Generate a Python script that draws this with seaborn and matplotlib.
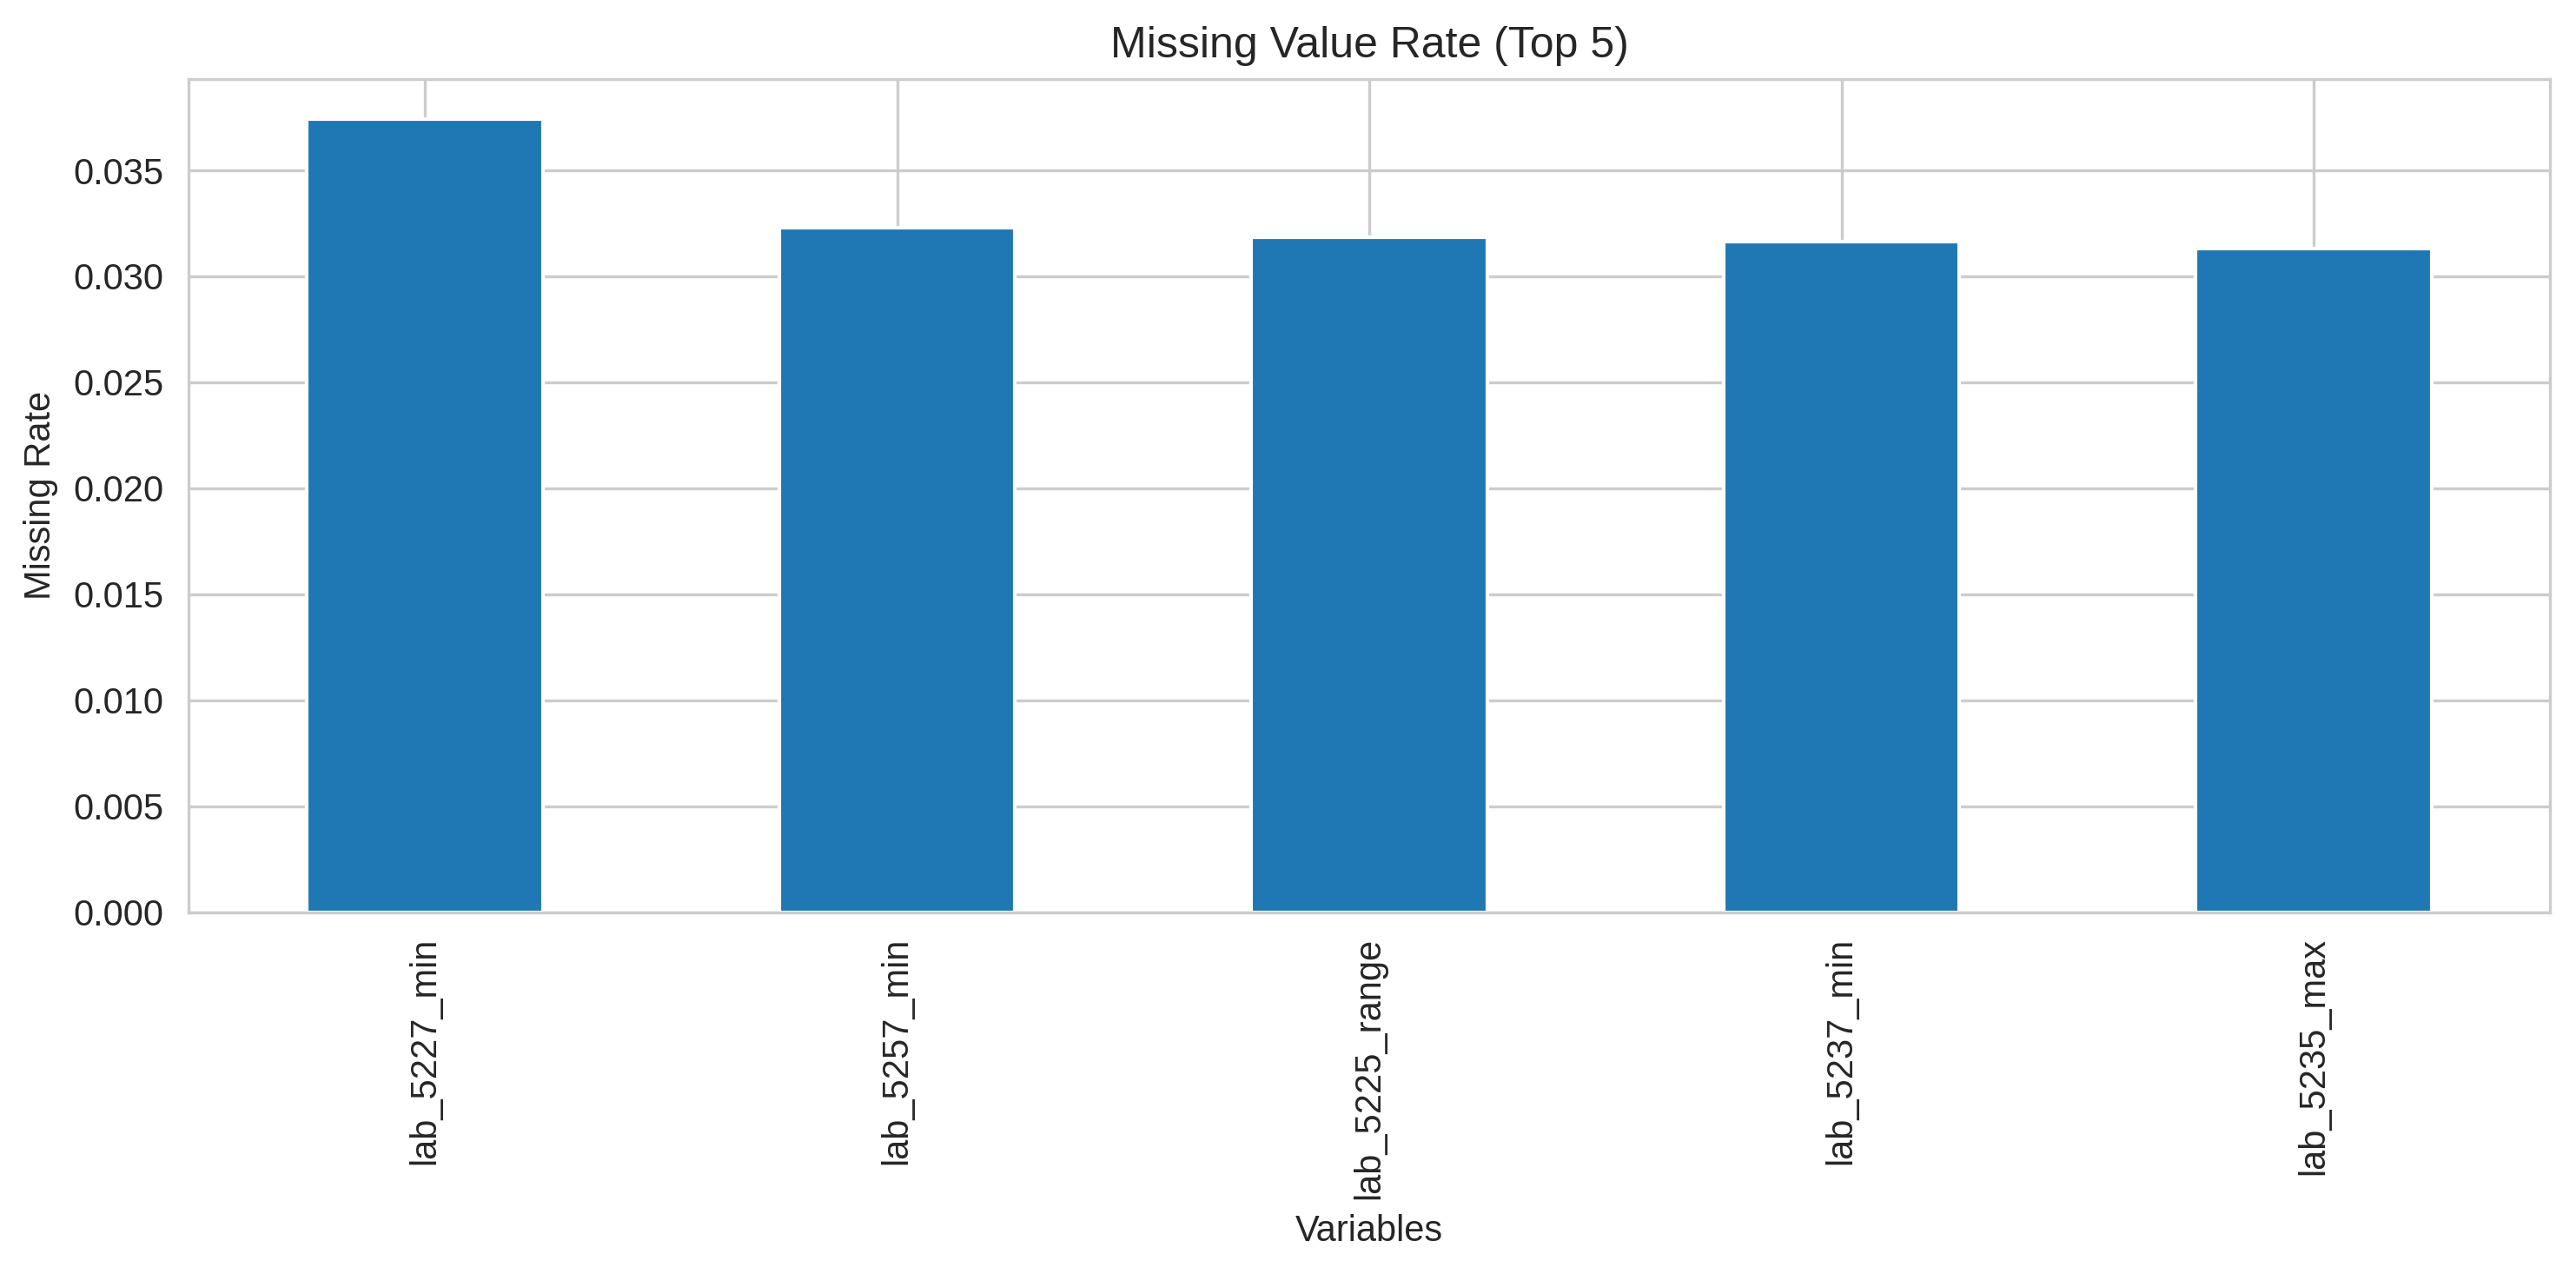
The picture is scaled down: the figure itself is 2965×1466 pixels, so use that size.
import numpy as np
import pandas as pd
import seaborn as sns
import matplotlib.pyplot as plt

# top 5 variables by missing rate
variables = ["lab_5227_min", "lab_5257_min", "lab_5225_range", "lab_5237_min", "lab_5235_max"]
missing_rate = [0.03744, 0.03230, 0.03185, 0.03164, 0.03131]

df = pd.DataFrame({"variable": variables, "rate": missing_rate})

sns.set_style("whitegrid")
plt.rcParams["font.family"] = ["Liberation Sans", "DejaVu Sans"]

fig, ax = plt.subplots(figsize=(2965 / 300, 1466 / 300), dpi=300)
sns.barplot(data=df, x="variable", y="rate", color="#1f77b4", saturation=1,
            width=0.5, edgecolor="white", linewidth=1.0, ax=ax)
ax.set_title("Missing Value Rate (Top 5)", fontsize=12)
ax.set_xlabel("Variables")
ax.set_ylabel("Missing Rate")
ax.set_xlim(-0.5, 4.5)
ax.grid(True, axis="both")
plt.xticks(rotation=90)
plt.subplots_adjust(left=0.0733, right=0.9898, top=0.938, bottom=0.284)
plt.savefig("out.png", dpi=300)
